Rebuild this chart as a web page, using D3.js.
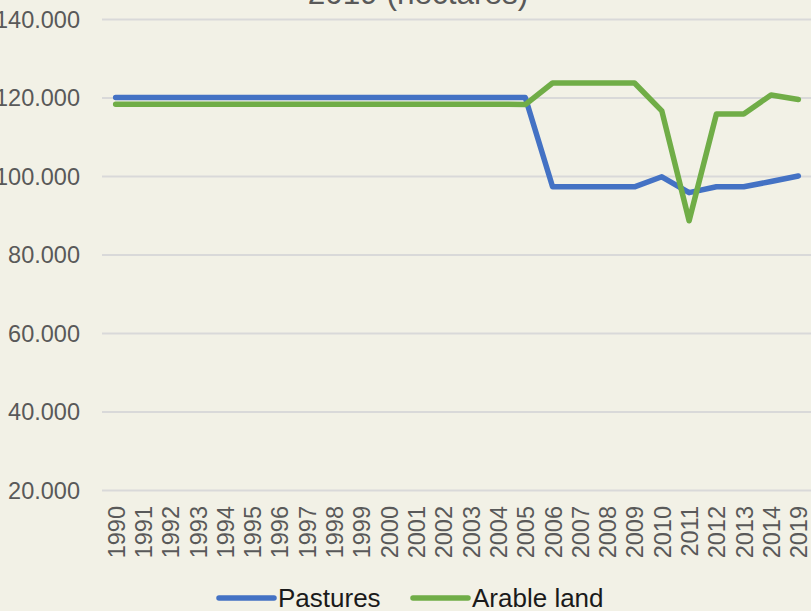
<!DOCTYPE html>
<html>
<head>
<meta charset="utf-8">
<script src="https://cdn.jsdelivr.net/npm/d3@7"></script>
<style>
  html, body { margin: 0; padding: 0; background: #f2f1e6; }
  svg { display: block; font-family: "Liberation Sans", Arial, sans-serif; }
</style>
</head>
<body>
<svg id="chart" width="811" height="611"></svg>
<script>
// ---- data ---------------------------------------------------------------
var years = ["1990", "1991", "1992", "1993", "1994", "1995", "1996", "1997",
             "1998", "1999", "2000", "2001", "2002", "2003", "2004", "2005",
             "2006", "2007", "2008", "2009", "2010", "2011", "2012", "2013",
             "2014", "2019"];

var pastures = [120000, 120000, 120000, 120000, 120000, 120000, 120000, 120000,
                120000, 120000, 120000, 120000, 120000, 120000, 120000, 120000,
                97250, 97250, 97250, 97250, 99800, 95750, 97250, 97250,
                98600, 100000];

var arable = [118300, 118300, 118300, 118300, 118300, 118300, 118300, 118300,
              118300, 118300, 118300, 118300, 118300, 118300, 118300, 118200,
              123700, 123700, 123700, 123700, 116600, 88600, 115800, 115800,
              120650, 119500];

var yTicks = [20000, 40000, 60000, 80000, 100000, 120000, 140000];

var seriesNames = ["Pastures", "Arable land"];
var seriesColors = ["#4472c4", "#70ad47"];

//^^^^^^^^^^^^^^^^^^^^^^^^^^^^^^^^^^^^^^^^^^^^^^^^^^^^^^^^^^^^^^^^^^^^^^^^^^
// Scales and layout
//--------------------------------------------------------------------------
var svg = d3.select("#chart");

var plot = { left: 102, right: 812, top: 19, bottom: 490 };

var x = d3.scalePoint()
    .domain(years)
    .range([plot.left, plot.right])
    .padding(0.5);

var y = d3.scaleLinear()
    .domain([20000, 140000])
    .range([plot.bottom, plot.top]);

var locale = d3.formatLocale({ decimal: ",", thousands: ".", grouping: [3], currency: ["", ""] });
var fmt = locale.format(",.0f");

// title (only the last line shows at the top edge)
svg.append("text")
    .attr("x", 418)
    .attr("y", 3.5)
    .attr("text-anchor", "middle")
    .attr("fill", "#595959")
    .style("font-size", "31.5px")
    .text("2019 (hectares)");

//^^^^^^^^^^^^^^^^^^^^^^^^^^^^^^^^^^^^^^^^^^^^^^^^^^^^^^^^^^^^^^^^^^^^^^^^^^
// Y axis: gridlines and labels
//--------------------------------------------------------------------------
var yAxis = d3.axisLeft(y)
    .tickValues(yTicks)
    .tickFormat(fmt)
    .tickSize(-(plot.right - plot.left))
    .tickPadding(22);

svg.append("g")
    .attr("transform", "translate(" + plot.left + ",0)")
    .call(yAxis)
    .call(function(g) {
        g.select(".domain").remove();
        g.selectAll(".tick line")
            .attr("stroke", "#d9d9d9")
            .attr("stroke-width", 2);
        g.selectAll(".tick text")
            .attr("fill", "#595959")
            .attr("dy", "0.35em")
            .style("font-size", "23.5px")
            .style("font-family", "Liberation Sans, Arial, sans-serif");
    });

//^^^^^^^^^^^^^^^^^^^^^^^^^^^^^^^^^^^^^^^^^^^^^^^^^^^^^^^^^^^^^^^^^^^^^^^^^^
// X axis: rotated year labels
//--------------------------------------------------------------------------
var xAxis = d3.axisBottom(x).tickSize(0).tickPadding(0);

svg.append("g")
    .attr("transform", "translate(0," + plot.bottom + ")")
    .call(xAxis)
    .call(function(g) {
        g.select(".domain").remove();
        g.selectAll(".tick text")
            .attr("fill", "#595959")
            .attr("transform", "rotate(-90)")
            .attr("text-anchor", "end")
            .attr("x", -16)
            .attr("y", 0)
            .attr("dy", "0.36em")
            .style("font-size", "23.5px")
            .style("font-family", "Liberation Sans, Arial, sans-serif");
    });

//^^^^^^^^^^^^^^^^^^^^^^^^^^^^^^^^^^^^^^^^^^^^^^^^^^^^^^^^^^^^^^^^^^^^^^^^^^
// Lines
//--------------------------------------------------------------------------
var line = d3.line()
    .x(function(d, i) { return x(years[i]); })
    .y(function(d) { return y(d); });

[pastures, arable].forEach(function(values, i) {
    svg.append("path")
        .datum(values)
        .attr("fill", "none")
        .attr("stroke", seriesColors[i])
        .attr("stroke-width", 5.5)
        .attr("stroke-linecap", "round")
        .attr("stroke-linejoin", "round")
        .attr("d", line);
});

//^^^^^^^^^^^^^^^^^^^^^^^^^^^^^^^^^^^^^^^^^^^^^^^^^^^^^^^^^^^^^^^^^^^^^^^^^^
// Legend
//--------------------------------------------------------------------------
var legendX = [219, 413];

var legend = svg.append("g").attr("transform", "translate(0,598)");

seriesNames.forEach(function(name, i) {
    legend.append("line")
        .attr("x1", legendX[i])
        .attr("x2", legendX[i] + 55)
        .attr("y1", 0)
        .attr("y2", 0)
        .attr("stroke", seriesColors[i])
        .attr("stroke-width", 5.5)
        .attr("stroke-linecap", "round");

    legend.append("text")
        .attr("x", legendX[i] + 59)
        .attr("y", 0)
        .attr("dy", "0.36em")
        .attr("fill", "#1a1a1a")
        .style("font-size", "26px")
        .text(name);
});
</script>
</body>
</html>
